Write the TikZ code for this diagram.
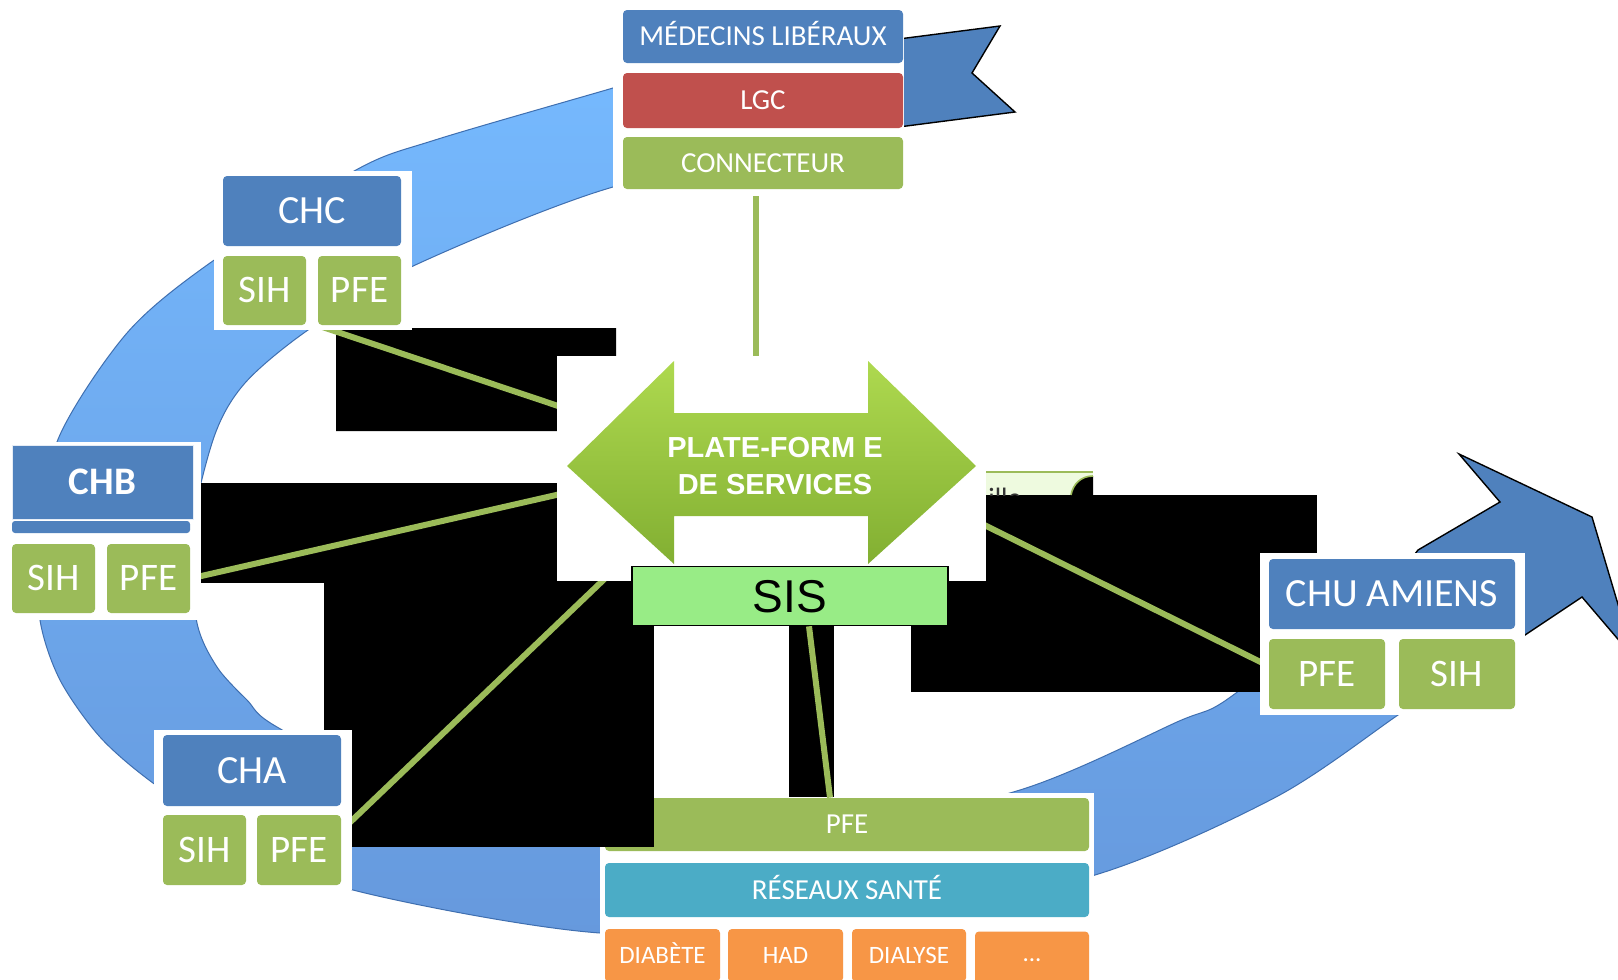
\documentclass[tikz,border=0pt]{standalone}
\usepackage{fontspec}
\setmainfont{Carlito}
\newfontfamily\arialf{Liberation Sans}
\definecolor{cblue}{HTML}{4F81BD}
\definecolor{cred}{HTML}{C0504D}
\definecolor{cgreen}{HTML}{9BBB59}
\definecolor{cteal}{HTML}{4BACC6}
\definecolor{corange}{HTML}{F79646}
\definecolor{ringA}{HTML}{76BAFF}
\definecolor{ringB}{HTML}{6699DD}
\definecolor{ringE}{HTML}{3F6FB0}
\definecolor{sisg}{HTML}{98EC86}
\definecolor{pfA}{HTML}{AED94F}
\definecolor{pfM}{HTML}{9CCB3F}
\definecolor{pfB}{HTML}{82AF32}
\definecolor{tabg}{HTML}{EEFADF}
\pgfdeclarelayer{lzero}
\pgfdeclarelayer{lone}
\pgfdeclarelayer{ltwo}
\pgfsetlayers{lzero,lone,ltwo,main}
\begin{document}
\begin{tikzpicture}[x=0.5pt,y=-0.5pt,
  bx/.style={rounded corners=2pt, inner sep=0pt, text=white, text depth=0pt, align=center},
  link/.style={draw=cgreen, line width=3pt},
  ftop/.style={font=\fontsize{14.5}{17}\selectfont, text height=9.1pt},
  fsm/.style={font=\fontsize{12.5}{15}\selectfont, text height=7.9pt},
  fbig/.style={font=\fontsize{20}{24}\selectfont, text height=12.6pt},
  fmid/.style={font=\fontsize{19.5}{23}\selectfont, text height=12.3pt},
  solid shape/.style={fill=cblue, draw=black, line width=0.7pt}
]
\useasboundingbox (0,0) rectangle (1618,980);
\clip (0,0) rectangle (1618,980);

\begin{pgfonlayer}{lzero}
\fill[white] (0,0) rectangle (1618,980);
% light ring
\shade[top color=ringA, bottom color=ringB, draw=ringE, line width=0.5pt]
  plot[smooth] coordinates {(820,40) (700,62) (613,88) (435,140) (356,170) (210,263) (127,333) (59,437) (38,540) (40,620) (60,680) (100,737) (153,783) (240,840) (353,890) (600,933) (850,925) (1095,875) (1276,797) (1398,715) (1470,665)}
  -- plot[smooth] coordinates {(1400,556) (1236,693) (1177,722) (1020,790) (800,838) (600,838) (420,800) (277,727) (247,700) (217,667) (197,623) (190,540) (214,437) (245,383) (308,330) (411,267) (613,187) (820,150)}
  -- cycle;
% tail and head of the circular arrow
\path[solid shape] (880,41.4) -- (1000,26) -- (972,73) -- (1015,112) -- (880,129.4) -- cycle;
\path[solid shape] (1380,600) -- (1418,550) -- (1500,502) -- (1459,454) -- (1592,517) -- (1634,658) -- (1582,597) -- (1525,635) -- (1470,668) -- cycle;
% bottom group
\fill[white] (600,793) rectangle (1094,985);
\node[bx, fill=cgreen, minimum width=242pt, minimum height=26.5pt, ftop] (pfe2) at (847,824.5) {PFE};
\node[bx, fill=cteal, minimum width=242pt, minimum height=27pt, ftop] (res) at (847,890) {RÉSEAUX SANTÉ};
\node[bx, fill=corange, minimum width=57.5pt, minimum height=26.5pt, fsm] (dia) at (662.5,955.5) {DIABÈTE};
\node[bx, fill=corange, minimum width=57.5pt, minimum height=26.5pt, fsm] (had) at (785.5,955.5) {HAD};
\node[bx, fill=corange, minimum width=57pt, minimum height=26.5pt, fsm] (dial) at (909,955.5) {DIALYSE};
\node[bx, fill=corange, minimum width=57pt, minimum height=26.5pt, fsm, text height=3pt] (dots) at (1032,958) {...};
\end{pgfonlayer}

\begin{pgfonlayer}{lone}
\fill[black] (336,328) rectangle (616,356) (336,356) rectangle (557,431);
\fill[black] (201,483) rectangle (557,583);
\fill[black] (324,581) rectangle (654,847);
\fill[black] (789,625) rectangle (834,797);
\fill[black] (911,495) rectangle (1317,692);
\fill[tabg] (986,472) rectangle (1093,495);
\begin{scope}
\clip (986,472) rectangle (1093,495);
\node[anchor=base west, inner sep=0pt, text=black!80, font=\fontsize{14}{16}\selectfont] (ille) at (988,507) {ille};
\end{scope}
\fill[black] (1093,476) -- (1093,495) -- (1071,495) .. controls (1073,484) and (1081,476) .. (1093,476) -- cycle;
\draw[cgreen, line width=0.8pt] (986,472) -- (1093,472);
\draw[cgreen, line width=0.8pt] (1071,495) .. controls (1073,484) and (1081,476) .. (1093,476);
\end{pgfonlayer}

% top group
\fill[white] (613,0) rectangle (904,196);
\node[bx, fill=cblue, minimum width=140pt, minimum height=26.5pt, ftop] (med) at (763,36.5) {MÉDECINS LIBÉRAUX};
\node[bx, fill=cred, minimum width=140pt, minimum height=27.5pt, ftop] (lgc) at (763,100.5) {LGC};
\node[bx, fill=cgreen, minimum width=140pt, minimum height=26pt, ftop] (conn) at (763,163) {CONNECTEUR};

% CHC
\fill[white] (214,171) rectangle (412,330);
\node[bx, fill=cblue, minimum width=89pt, minimum height=35pt, fbig] (chc) at (312,211) {CHC};
\node[bx, fill=cgreen, minimum width=41.5pt, minimum height=34.5pt, fmid] (chcsih) at (264.5,290.5) {SIH};
\node[bx, fill=cgreen, minimum width=41.5pt, minimum height=34.5pt, fmid] (chcpfe) at (359.5,290.5) {PFE};

% CHB
\fill[white] (8,442) rectangle (201,620);
\node[fill=cblue, draw=white!85!cblue, line width=0.5pt, inner sep=0pt, text=white, text height=12.3pt, text depth=0pt, minimum width=90.5pt, minimum height=37pt, font=\fontsize{19.5}{23}\selectfont\bfseries] (chb) at (102.5,482) {CHB};
\node[bx, fill=cblue, rounded corners=1.5pt, minimum width=89pt, minimum height=6pt] (chbstrip) at (101,527) {};
\node[bx, fill=cgreen, minimum width=41.5pt, minimum height=34.5pt, fmid] (chbsih) at (53.5,578.5) {SIH};
\node[bx, fill=cgreen, minimum width=41.5pt, minimum height=34.5pt, fmid] (chbpfe) at (148.5,578.5) {PFE};

% CHA
\fill[white] (154,730) rectangle (352,890);
\node[bx, fill=cblue, minimum width=89pt, minimum height=35.5pt, fbig] (cha) at (252,770.5) {CHA};
\node[bx, fill=cgreen, minimum width=41.5pt, minimum height=35pt, fmid] (chasih) at (204.5,850) {SIH};
\node[bx, fill=cgreen, minimum width=42pt, minimum height=35pt, fmid] (chapfe) at (299,850) {PFE};

% CHU
\fill[white] (1260,553) rectangle (1525,715);
\node[bx, fill=cblue, minimum width=123pt, minimum height=35pt, fbig] (chu) at (1392,594) {CHU AMIENS};
\node[bx, fill=cgreen, minimum width=58pt, minimum height=35pt, fmid] (chupfe) at (1327,674) {PFE};
\node[bx, fill=cgreen, minimum width=58pt, minimum height=35pt, fmid] (chusih) at (1457,674) {SIH};

% platform arrow
\fill[white] (557,356) rectangle (986,581);
\shade[top color=pfA, middle color=pfM, bottom color=pfB] (567,466) -- (674,361) -- (674,413) -- (868,413) -- (868,361) -- (976,466) -- (868,564) -- (868,516) -- (674,516) -- (674,564) -- cycle;
\node[font=\arialf\bfseries\fontsize{14.5}{18.5}\selectfont, text=white, align=center, inner sep=0pt] (pf) at (775,466) {PLATE-FORM E\\DE SERVICES};
\node[draw=black, line width=0.8pt, fill=sisg, minimum width=158pt, minimum height=29.5pt, inner sep=0pt, text height=16.5pt, text depth=0pt, font=\arialf\fontsize{23}{26}\selectfont] (sis) at (790,596) {SIS};

% hidden connector ends under the platform
\coordinate (pA) at (600,420);
\coordinate (pB) at (600,485);
\coordinate (pC) at (640,545);
\coordinate (pD) at (940,503);
\coordinate (pE) at (756,400);

\begin{pgfonlayer}{ltwo}
\draw[link] (chcpfe.south west) -- (pA);
\draw[link] (chbpfe.east) -- (pB);
\draw[link] ([yshift=-8pt]chapfe.north east) -- (pC);
\draw[link] ([yshift=4pt]chupfe.west) -- (pD);
\draw[link] ([xshift=-3.5pt]conn.south) -- (pE);
\draw[link] ([xshift=9.5pt]sis.south) -- ([xshift=-8.5pt]pfe2.north);
\end{pgfonlayer}
\end{tikzpicture}
\end{document}
